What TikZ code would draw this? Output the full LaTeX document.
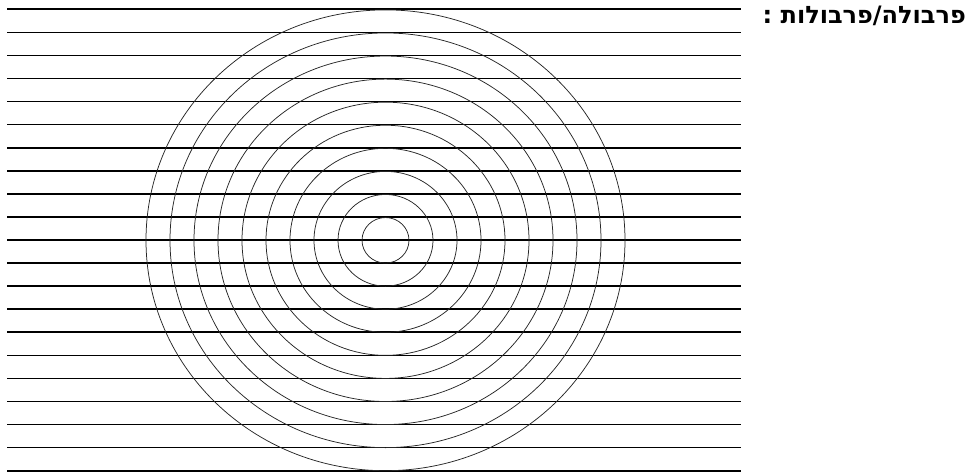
\documentclass[tikz,border=0pt]{standalone}
\usepackage{fontspec}
\setmainfont{Liberation Serif}
\newfontfamily\hebfont[Script=Hebrew]{DejaVu Sans Bold}
\TeXXeTstate=1

\begin{document}
\begin{tikzpicture}[x=1pt,y=-1pt]
\tikzset{rule/.style={draw=black,line width=1.6pt},
         ring/.style={draw=black!85,line width=.75pt}}
\useasboundingbox (0,0) rectangle (971,473);
% ruled lines
\foreach \i in {0,...,20}
  \draw[rule] (7,{9.3+23.07*\i}) -- (741,{9.3+23.07*\i});
% rings round the centre
\coordinate (mid) at (385.5,240.3);
\foreach \k in {1,...,10}
  \draw[ring] (mid) ellipse ({24*\k-0.5} and {23.07*\k-0.3});
\node[anchor=east,inner sep=0pt,font=\hebfont\fontsize{24}{28}\selectfont] (title) at (966,16) {\beginR פרבולה/פרבולות :\endR};
\end{tikzpicture}
\end{document}
